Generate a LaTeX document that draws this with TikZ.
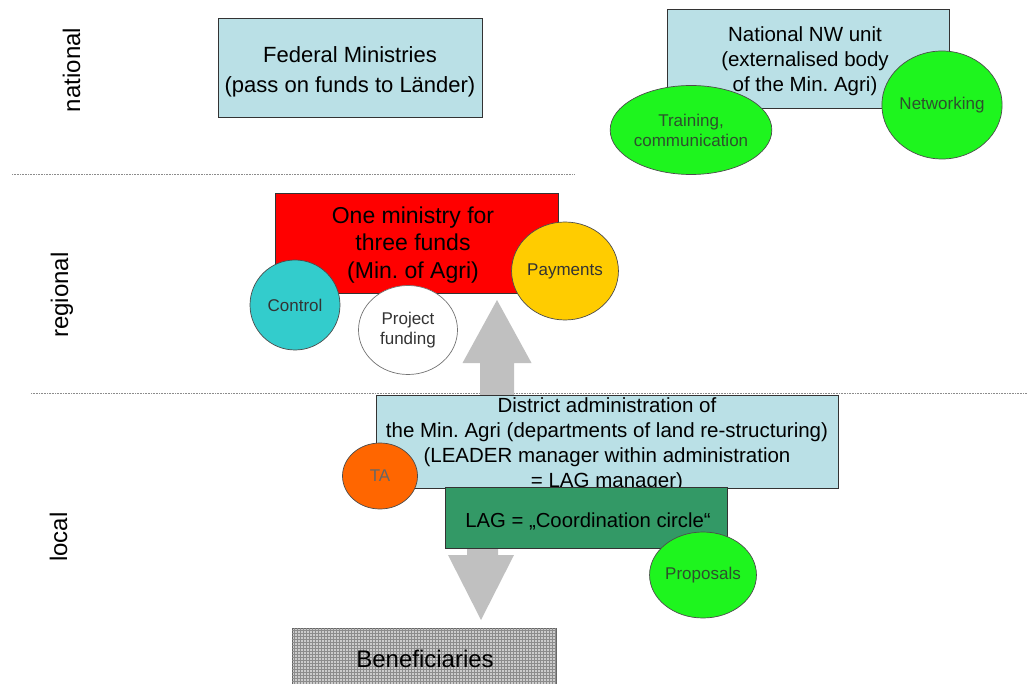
\documentclass[tikz,border=0pt]{standalone}
\usepackage{fontspec}
\setmainfont{Liberation Sans}
\usetikzlibrary{patterns,shapes.geometric}
\definecolor{lblue}{RGB}{186,224,230}
\definecolor{brgreen}{RGB}{30,245,30}
\definecolor{teal2}{RGB}{51,204,204}
\definecolor{gold2}{RGB}{255,204,0}
\definecolor{orange2}{RGB}{255,102,0}
\definecolor{sea2}{RGB}{51,153,102}
\definecolor{red2}{RGB}{255,0,0}
\definecolor{arrowgray}{RGB}{192,192,192}
\definecolor{darktxt}{RGB}{45,80,45}
\frenchspacing
\begin{document}
\begin{tikzpicture}[x=1pt,y=-1pt,
  box/.style={draw=black!80,line width=0.8pt,inner sep=0pt,rectangle},
  blob/.style={ellipse,draw=black!70,line width=0.7pt,inner sep=0pt,align=center,
    font={\fontsize{17}{20}\selectfont}},
  sidelabel/.style={rotate=90,anchor=base,font={\fontsize{24}{28}\selectfont}},
  sepline/.style={draw=black!45,line width=0.9pt,dash pattern=on 0.8pt off 0.8pt},
  bigarrow/.style={fill=arrowgray},
  txt/.style={align=center,inner sep=0pt}]
\useasboundingbox (0,0) rectangle (1027,684);

% level labels
\node[sidelabel] (lnat) at (80,70) {national};
\node[sidelabel] (lreg) at (68,295) {regional};
\node[sidelabel] (lloc) at (67,537) {local};

% separators
\coordinate (s1a) at (12,174);
\coordinate (s1b) at (575,174);
\coordinate (s2a) at (31,393);
\coordinate (s2b) at (1027,393);
\draw[sepline] (s1a) -- (s1b);
\draw[sepline] (s2a) -- (s2b);

% national
\node[box,fill=lblue,minimum width=264,minimum height=99] (fed) at (350,67.5) {};
\node[txt,font={\fontsize{22}{30}\selectfont}] (fedtxt) at (350,72) {Federal Ministries\\(pass on funds to Länder)};

\node[box,fill=lblue,minimum width=282,minimum height=99] (nw) at (808,58.5) {};
\node[txt,font={\fontsize{20.5}{25}\selectfont}] (nwtxt) at (805,61.5) {National NW unit\\(externalised body\\of the Min. Agri)};
\node[blob,fill=brgreen,text=darktxt,minimum width=132,minimum height=89] (train) at (691,130) {Training,\\communication};
\node[blob,fill=brgreen,text=darktxt,minimum width=115,minimum height=108] (netw) at (942,105) {Networking};

% regional
\fill[bigarrow] (480,410) -- (480,363) -- (462.5,363) -- (497,300) -- (531.5,363) -- (514,363) -- (514,410) -- cycle;
\node[box,fill=red2,minimum width=283,minimum height=100] (min) at (416.5,243) {};
\node[txt,font={\fontsize{23}{27.5}\selectfont}] (mintxt) at (413,245) {One ministry for\\three funds\\(Min. of Agri)};
\node[blob,fill=teal2,text=black!80,minimum width=90,minimum height=90] (ctrl) at (295,305) {Control};
\node[blob,fill=white,draw=black!55,text=black!80,minimum width=99,minimum height=89] (proj) at (408,330) {Project\\funding};
\node[blob,fill=gold2,text=black!80,minimum width=97,minimum height=98] (pay) at (565,271) {Payments};

% local
\fill[bigarrow] (467,540) -- (467,555) -- (448,555) -- (481,620) -- (514,555) -- (498,555) -- (498,540) -- cycle;
\node[box,fill=lblue,minimum width=462,minimum height=93] (dist) at (607,441.5) {};
\node[txt,font={\fontsize{20.5}{25}\selectfont}] (disttxt) at (607,445) {District administration of\\the Min. Agri (departments of land re-structuring)\\(LEADER manager within administration\\= LAG manager)};
\node[blob,fill=orange2,text=black!60,minimum width=75,minimum height=66] (ta) at (380,476) {TA};
\node[box,fill=sea2,minimum width=282,minimum height=61] (lag) at (586,517.5) {};
\node[txt,anchor=base,font={\fontsize{20.3}{24}\selectfont}] (lagtxt) at (588,527) {LAG = „Coordination circle“};
\node[blob,fill=brgreen,text=darktxt,minimum width=97,minimum height=86] (prop) at (703,575) {Proposals};

% beneficiaries
\begin{scope}
\clip (0,0) rectangle (1027,684);
\node[box,draw=black!60,fill=black!20,postaction={pattern=grid,pattern color=black!45},minimum width=264,minimum height=60] (ben) at (424,658) {};
\end{scope}
\node[txt,anchor=base,font={\fontsize{24}{28}\selectfont}] (bentxt) at (425,667) {Beneficiaries};
\end{tikzpicture}
\end{document}
